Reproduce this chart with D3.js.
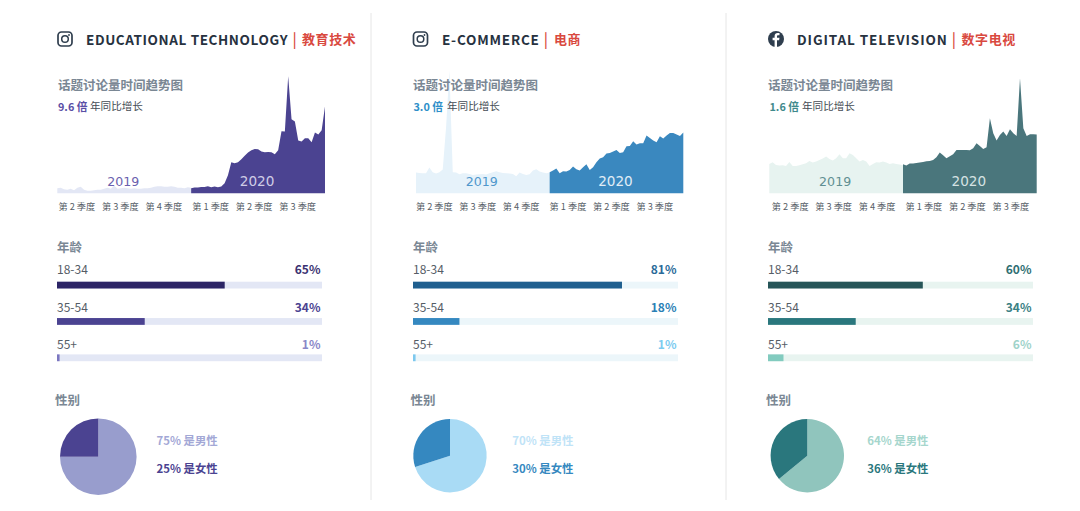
<!DOCTYPE html>
<html><head><meta charset="utf-8">
<script src="https://cdn.jsdelivr.net/npm/d3@7/dist/d3.min.js"></script>
<style>
html,body{margin:0;padding:0;background:#fff}
svg{display:block}
text{font-family:"Noto Sans CJK SC","Noto Sans",sans-serif}
.axis text{font-size:9.2px;fill:#555d66;text-anchor:start}
.axis path,.axis line{display:none}
</style></head><body>
<svg id="c" width="1080" height="511"></svg>
<script>
// ---------- data ----------
const titles = ["EDUCATIONAL TECHNOLOGY","E-COMMERCE","DIGITAL TELEVISION"];
const titlesCn = ["教育技术","电商","数字电视"];
const growth = ["9.6 倍","3.0 倍","1.6 倍"];
const trendTitle = "话题讨论量时间趋势图";
const growthText = "年同比增长";
const ageTitle = "年龄";
const genderTitle = "性别";
const quarterLabels = ["第 2 季度","第 3 季度","第 4 季度","第 1 季度","第 2 季度","第 3 季度"];
const quarterWeeks = [0,13,26,40,53,66];
const years = ["2019","2020"];
const ageGroups = ["18-34","35-54","55+"];
const ageValues = [[65,34,1],[81,18,1],[60,34,6]];
const maleShare = [75,70,64];
const femaleShare = [25,30,36];

const edu2019 = [5,5.5,4,3.5,4.5,3,5.5,6.5,3.5,2.5,2.5,3,3.5,3.5,4.5,5.5,4.5,7.5,4.5,5,5.5,5,4.5,5,4.5,4.5,5,5,5.5,6.5,7,7,6.5,6.5,7,6.5,5.5,5.5,5,6,5.5];
const edu2020 = [5,5.7,5.7,6.3,6.3,7,6,6.7,6,6.7,10,18,31,30,31,34,37.5,40.7,43,44.3,44,41.7,41,41.3,41,39,43,62,61.7,117,74,71.7,52.7,51.7,55,55,51,60.7,58.7,63,86.7];
const ecom2019 = [20.7,20.3,20,20,25.7,21,19.7,21,23.7,66,122.7,21,20.7,19,20,20,19.3,18.3,18.7,19,19.3,18.7,20,21,22,21,20.3,20,19.7,19.3,17,20.7,19.3,18.3,19,22.7,24,21.7,20.7,20,20.7];
const ecom2020 = [21,22.7,24.7,20,22,21.7,23.3,26.7,24,22.7,26,29,23.3,26,31,34.7,36,39.7,40.3,41.7,43.3,40.3,41,47,47.3,52,48.7,50,50,57.7,55.3,52.7,51,57,54.7,57.7,60.3,60.3,58.7,57.3,60.7];
const tv2019 = [29.3,31,28.3,27.7,28,27.3,31.3,27.3,27.3,28,29,30,32.3,30.7,31.7,33.3,34.7,36.7,34.3,32.7,35,39,35,35,40,38.3,35,31.7,33.3,31.7,27.3,29.3,31,30.7,31.7,30.7,29.3,30,29.3,28.7,28];
const tv2020 = [29,27.7,29.7,29.7,30.3,30.7,31.3,32,32.3,33.3,36,40.7,38,35,37,39,43.3,43.3,43.3,43.3,43,45,50,47.3,44.3,46,75,60,52.7,58.3,61.7,57.3,64,60,57.3,115,65,57.3,59,59,58.7];
const series2019 = [edu2019,ecom2019,tv2019];
const series2020 = [edu2020,ecom2020,tv2020];

// ---------- styles / layout ----------
const icons = ["ig","ig","fb"];
const palettes = [
 {light:"#e3e7f5",dark:"#4b4391",y19:"#6a5fae",y20:"#cfcce6",growth:"#5a4ea5",track:"#e3e7f5",
  bars:["#2c2566","#4b4391","#7b76c0"],vals:["#3b3272","#4b4391","#8a86c8"],male:"#989dcd",female:"#4b4391",maleT:"#a3a8d6"},
 {light:"#e6f2fa",dark:"#3a88bf",y19:"#4f97cc",y20:"#e0edf6",growth:"#2e8fc9",track:"#ecf6fa",
  bars:["#1f5f8f","#3588c0","#7cc8ee"],vals:["#2a6a99","#2b80b5","#7ccbf0"],male:"#a9dbf5",female:"#3588c0",maleT:"#bfe3f7"},
 {light:"#e7f3f0",dark:"#4a767c",y19:"#5f8f92",y20:"#d5e2e3",growth:"#3f8a8c",track:"#e8f4f0",
  bars:["#265558","#2a777d","#82cbbf"],vals:["#2f6f73","#3a8084","#9fd3ca"],male:"#90c5bd",female:"#2a777d",maleT:"#a5d6cd"}
];
const layouts = [
 {icon:57,title:86,track:0.6,bar:294.3,cn:302,sub:58,growthX:58,growthTextX:90,ax0:57.3,ax1:325,tickDx:0.6,age:57,gender:55,pie:[98.3,456.7,38.3],legend:156.5},
 {icon:412.5,title:442,track:0.8,bar:545.5,cn:554,sub:413,growthX:413.5,growthTextX:447,ax0:416,ax1:683.3,tickDx:-0.6,age:413,gender:410.5,pie:[450,455.7,36.7],legend:512.3},
 {icon:768,title:797,track:0.9,bar:953.5,cn:961.5,sub:768,growthX:769.5,growthTextX:802,ax0:769.3,ax1:1036.7,tickDx:2,age:768,gender:766,pie:[807.3,455.7,36.7],legend:867.3}
];
const dividers = [371,726];
const svg = d3.select("#c");

svg.selectAll("line.div").data(dividers).join("line").attr("class","div")
  .attr("x1",d=>d).attr("x2",d=>d).attr("y1",13).attr("y2",500)
  .attr("stroke","#e6e6e6").attr("stroke-width",1);

function label(g,x,y,txt,size,fill,weight,extra){
  const t = g.append("text").attr("x",x).attr("y",y).attr("dominant-baseline","central")
    .attr("font-size",size).attr("fill",fill).attr("font-weight",weight||400).text(txt);
  if(extra) extra(t);
  return t;
}

titles.forEach((name,i)=>{
  const L = layouts[i], P = palettes[i];
  const g = svg.append("g");

  // area (drawn first so the text stays on top)
  const x = d3.scaleLinear().domain([0,80]).range([L.ax0,L.ax1]);
  const y = d3.scaleLinear().domain([0,117]).range([193.3,76.3]);
  const area = off => d3.area().x((d,k)=>x(k+off)).y0(y(0)).y1(d=>y(d));
  g.append("path").attr("d",area(0)(series2019[i])).attr("fill",P.light);
  g.append("path").attr("d",area(40)(series2020[i])).attr("fill",P.dark);
  [[20,P.y19,12.6],[60,P.y20,13.6]].forEach((d,k)=>{
    g.append("text").attr("x",x(d[0])-1).attr("y",181).attr("text-anchor","middle").attr("dominant-baseline","central")
      .attr("font-size",d[2]).attr("fill",d[1]).style("font-family","'DejaVu Sans'").text(years[k]);
  });
  const axis = d3.axisBottom(x).tickValues(quarterWeeks).tickSize(0).tickPadding(0)
    .tickFormat((d,k)=>quarterLabels[k]);
  g.append("g").attr("class","axis").attr("transform",`translate(${L.tickDx},203.5)`).call(axis);

  // header icon
  const ic = g.append("g").attr("transform",`translate(${L.icon},31)`);
  if(icons[i]==="ig"){
    ic.append("rect").attr("x",1).attr("y",1).attr("width",14).attr("height",14).attr("rx",3.5)
      .attr("fill","none").attr("stroke","#2f3e4e").attr("stroke-width",1.7);
    ic.append("circle").attr("cx",8).attr("cy",8).attr("r",3.3).attr("fill","none").attr("stroke","#2f3e4e").attr("stroke-width",1.5);
    ic.append("circle").attr("cx",12).attr("cy",4).attr("r",.9).attr("fill","#2f3e4e");
  } else {
    ic.append("circle").attr("cx",8).attr("cy",8).attr("r",8).attr("fill","#2f3e4e");
    ic.append("path").attr("d","M9 16V9.3h2.1l.4-2.5H9V5.4c0-.8.3-1.2 1.2-1.2h1.3V2h-1.9C7.8 2 6.6 3.1 6.6 5v1.8H4.6v2.5h2V16z").attr("fill","#fff");
  }
  label(g,L.title,38.5,name,13.5,"#27323f",700,t=>t.attr("letter-spacing",L.track));
  label(g,L.bar-1.7,38,"|",15,"#d9493f",500);
  label(g,L.cn,38.5,titlesCn[i],13,"#d9493f",700,t=>t.attr("letter-spacing",.6));

  label(g,L.sub,84,trendTitle,12.5,"#7a8794",700);
  label(g,L.growthX,105.5,growth[i],10.8,P.growth,700);
  label(g,L.growthTextX,105.5,growthText,10.6,"#454c54",400);

  // age bars
  label(g,L.age,246,ageTitle,12.5,"#7a8794",700);
  const bw = d3.scaleLinear().domain([0,100]).range([0,258]);
  const rowY = d3.scalePoint().domain(ageGroups).range([285,357.7]);
  const labelY = [268.3,306.5,343.3];
  ageGroups.forEach((a,k)=>{
    const cy = rowY(a);
    label(g,L.age,labelY[k],a,12,"#555d66",400);
    label(g,L.age+263.5,labelY[k],ageValues[i][k]+"%",12,P.vals[k],700,t=>t.attr("text-anchor","end"));
    g.append("rect").attr("x",L.age).attr("y",cy-3.3).attr("width",265).attr("height",6.8).attr("fill",P.track);
    g.append("rect").attr("x",L.age).attr("y",cy-3.3).attr("width",bw(ageValues[i][k])).attr("height",6.8).attr("fill",P.bars[k]);
  });

  // gender
  label(g,L.gender,399,genderTitle,12.5,"#7a8794",700);
  const pie = d3.pie().sort(null).value(d=>d);
  const arc = d3.arc().innerRadius(0).outerRadius(L.pie[2]);
  const slices = pie([maleShare[i],femaleShare[i]]);
  g.append("g").attr("transform",`translate(${L.pie[0]},${L.pie[1]})`)
    .selectAll("path").data(slices).join("path").attr("d",arc)
    .attr("fill",(d,k)=>k===0?P.male:P.female);
  label(g,L.legend,439.7,maleShare[i]+"% 是男性",11.4,P.maleT,700);
  label(g,L.legend,468,femaleShare[i]+"% 是女性",11.4,P.female,700);
});
</script>
</body></html>
